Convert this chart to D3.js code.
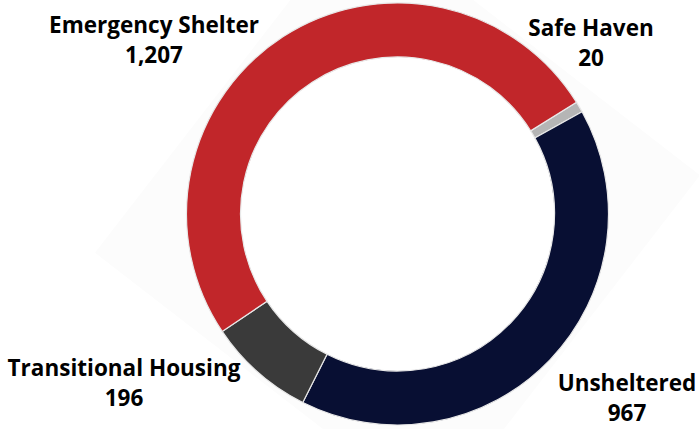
<!DOCTYPE html>
<html>
<head>
<meta charset="utf-8">
<script src="https://cdn.jsdelivr.net/npm/d3@7"></script>
<style>
  html, body { margin: 0; padding: 0; background: #ffffff; }
  svg { display: block; }
  text { font-family: "Open Sans", "Noto Sans", sans-serif; font-weight: 700; fill: #000; }
</style>
</head>
<body>
<svg id="chart" width="699" height="429"></svg>
<script>
// Point-in-time count by housing situation (clockwise from the top-right)
const categories = ["Safe Haven", "Unsheltered", "Transitional Housing", "Emergency Shelter"];
const values = [20, 967, 196, 1207];
const colors = ["#b5b5b5", "#080f33", "#3a3a3a", "#c1262a"];
const valueLabels = ["20", "967", "196", "1,207"];

const width = 699, height = 429;
const cx = 397.5, cy = 214;
const outerR = 211, innerR = 157;
const startDeg = 58;

const svg = d3.select("#chart");

// faint rotated backdrop behind the ring
const halfDiag = 305, tilt = 172.7 * Math.PI / 180;
const corners = d3.range(4).map(i => {
  const a = tilt + i * Math.PI / 2;
  return [cx + halfDiag * Math.cos(a), cy + halfDiag * Math.sin(a)];
});
svg.append("polygon")
  .attr("points", corners.map(p => p.join(",")).join(" "))
  .attr("fill", "#fcfcfc");

const pie = d3.pie()
  .sort(null)
  .value(d => d.value)
  .startAngle(startDeg * Math.PI / 180)
  .endAngle(startDeg * Math.PI / 180 + 2 * Math.PI);

const arc = d3.arc().innerRadius(innerR).outerRadius(outerR);

const data = categories.map((c, i) => ({ name: c, value: values[i], color: colors[i] }));

const g = svg.append("g").attr("transform", `translate(${cx},${cy})`);
g.append("circle").attr("r", innerR).attr("fill", "#ffffff");
g.selectAll("path")
  .data(pie(data))
  .join("path")
  .attr("d", arc)
  .attr("fill", d => d.data.color)
  .attr("stroke", "#e8e8e8")
  .attr("stroke-width", 1.2);

// category labels with their counts
const labelPos = [
  { x: 591, y: 36 },   // Safe Haven
  { x: 627, y: 391 },  // Unsheltered
  { x: 124, y: 376 },  // Transitional Housing
  { x: 154, y: 33 }    // Emergency Shelter
];
const labels = svg.append("g").attr("text-anchor", "middle").attr("font-size", 22.5);
data.forEach((d, i) => {
  const t = labels.append("text").attr("x", labelPos[i].x).attr("y", labelPos[i].y);
  t.append("tspan").attr("x", labelPos[i].x).text(d.name);
  t.append("tspan").attr("x", labelPos[i].x).attr("dy", 30).text(valueLabels[i]);
});
</script>
</body>
</html>
